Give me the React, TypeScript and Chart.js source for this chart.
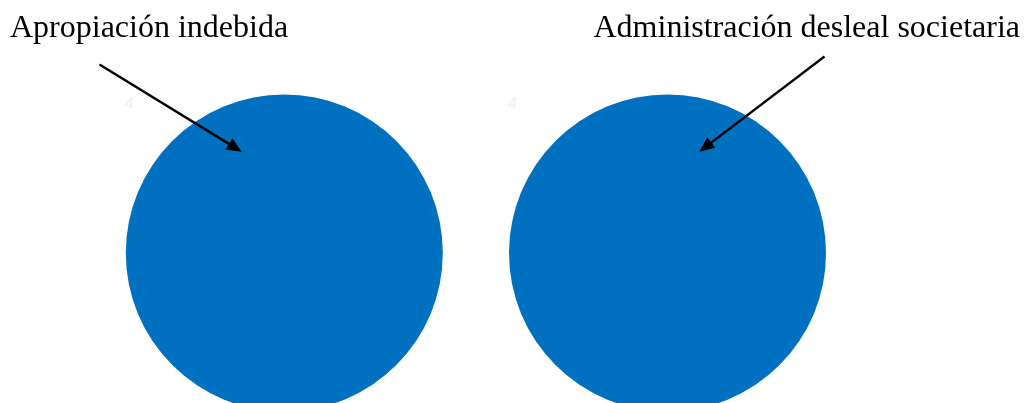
import React, { useEffect, useRef } from "react";
import { Chart, registerables } from "chart.js";

Chart.register(...registerables);

const categories = ["Apropiación indebida", "Administración desleal societaria"];
const bubbleX = [284.3, 667.5];
const bubbleY = [253, 253];
const bubbleR = [158.5, 158.5];
const faintLabels = ["4", "4"];

const calloutPlugin = {
  id: "callouts",
  afterDatasetsDraw(chart: any) {
    const ctx = chart.ctx as CanvasRenderingContext2D;
    const meta = chart.getDatasetMeta(0);
    const textPos = [
      { x: 10, y: 37, align: "left" as CanvasTextAlign },
      { x: 1020, y: 37, align: "right" as CanvasTextAlign },
    ];
    const arrowStart = [
      { x: 99.5, y: 64.5 },
      { x: 824.5, y: 56.5 },
    ];
    const tipOffset = [
      { dx: -42.6, dy: -101.3 },
      { dx: 31.8, dy: -101.3 },
    ];
    ctx.save();
    meta.data.forEach((el: any, i: number) => {
      // faint label
      ctx.fillStyle = "#efefef";
      ctx.font = "italic 15px 'DejaVu Sans'";
      ctx.textAlign = "center";
      ctx.textBaseline = "alphabetic";
      ctx.fillText(faintLabels[i], el.x - 155, el.y - 144);

      // title text
      ctx.fillStyle = "#000";
      ctx.font = "32px 'Liberation Serif'";
      ctx.textAlign = textPos[i].align;
      ctx.fillText(categories[i], textPos[i].x, textPos[i].y);

      // arrow
      const sx = arrowStart[i].x;
      const sy = arrowStart[i].y;
      const tx = el.x + tipOffset[i].dx;
      const ty = el.y + tipOffset[i].dy;
      const ang = Math.atan2(ty - sy, tx - sx);
      const headLen = 15;
      const headW = 6.6;
      const bx = tx - headLen * Math.cos(ang);
      const by = ty - headLen * Math.sin(ang);
      ctx.strokeStyle = "#000";
      ctx.lineWidth = 2.4;
      ctx.beginPath();
      ctx.moveTo(sx, sy);
      ctx.lineTo(bx, by);
      ctx.stroke();
      ctx.fillStyle = "#000";
      ctx.beginPath();
      ctx.moveTo(tx, ty);
      ctx.lineTo(bx + headW * Math.sin(ang), by - headW * Math.cos(ang));
      ctx.lineTo(bx - headW * Math.sin(ang), by + headW * Math.cos(ang));
      ctx.closePath();
      ctx.fill();
    });
    ctx.restore();
  },
};

export default function App() {
  const ref = useRef<HTMLCanvasElement | null>(null);
  useEffect(() => {
    if (!ref.current) return;
    const chart = new Chart(ref.current, {
      type: "bubble",
      data: {
        labels: categories,
        datasets: [
          {
            label: "Delitos",
            data: bubbleX.map((x, i) => ({ x, y: bubbleY[i], r: bubbleR[i] })),
            backgroundColor: "#0070C0",
            borderWidth: 0,
            hoverBorderWidth: 0,
            clip: false as any,
          },
        ],
      },
      options: {
        animation: false,
        responsive: false,
        maintainAspectRatio: false,
        layout: { padding: 0, autoPadding: false },
        events: [],
        plugins: { legend: { display: false }, tooltip: { enabled: false } },
        scales: {
          x: { type: "linear", min: 0, max: 1024, display: false },
          y: { type: "linear", min: 0, max: 403, reverse: true, display: false },
        },
      },
      plugins: [calloutPlugin],
    });
    return () => chart.destroy();
  }, []);
  return (
    <div style={{ position: "fixed", left: 0, top: 0, width: 1024, height: 403, background: "#fff" }}>
      <canvas ref={ref} width={1024} height={403} style={{ display: "block" }} />
    </div>
  );
}
